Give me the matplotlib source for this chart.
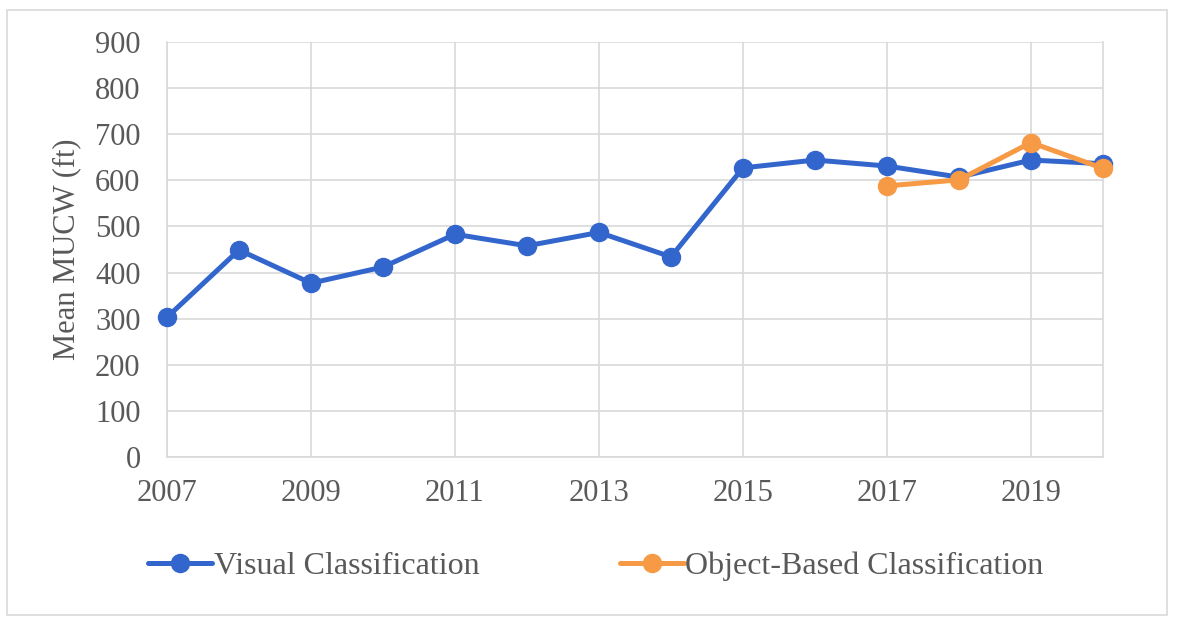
import matplotlib
matplotlib.use("Agg")
import matplotlib.pyplot as plt
from matplotlib.patches import Rectangle

# data
years = [2007, 2008, 2009, 2010, 2011, 2012, 2013, 2014, 2015, 2016, 2017, 2018, 2019, 2020]
visual = [303, 449, 377, 412, 483, 458, 487, 434, 627, 644, 631, 607, 644, 636]
obj_years = [2017, 2018, 2019, 2020]
obj_based = [588, 601, 682, 626]

BLUE = "#3366cc"
ORANGE = "#f79a45"
TEXT = "#595959"
GRID = "#d9d9d9"

plt.rcParams.update({
    "font.family": ["Liberation Serif", "DejaVu Serif"],
    "font.size": 22,
    "text.color": TEXT,
})

fig = plt.figure(figsize=(11.82, 6.25), dpi=100)
ax = fig.add_axes([167 / 1182, 1 - 457 / 625, (1103 - 167) / 1182, (457 - 42) / 625])

ax.plot(years, visual, color=BLUE, lw=3.6, marker="o", ms=13,
        label="Visual Classification", solid_capstyle="round", zorder=3, clip_on=False)
ax.plot(obj_years, obj_based, color=ORANGE, lw=3.6, marker="o", ms=13,
        label="Object-Based Classification", solid_capstyle="round", zorder=4, clip_on=False)

ax.set_xlim(2007, 2020)
ax.set_ylim(0, 900)
ax.set_yticks(range(0, 901, 100))
ax.set_xticks(range(2007, 2021, 2))
ax.grid(True, color=GRID, lw=1.2)
ax.set_axisbelow(True)
ax.spines["top"].set_visible(False)
for s in ["left", "bottom", "right"]:
    ax.spines[s].set_color(GRID)
    ax.spines[s].set_linewidth(1.2)
ax.tick_params(length=0, colors=TEXT, labelsize=22)
ax.tick_params(axis="x", pad=16)
ax.tick_params(axis="y", pad=19)
ax.set_ylabel("Mean MUCW (ft)", fontsize=22, color=TEXT, labelpad=10)

fig.legend(loc="center", bbox_to_anchor=(0.504, 1 - 566 / 625), ncol=2,
           frameon=False, fontsize=23, columnspacing=4.4, handlelength=2.0,
           handletextpad=0.05)

fig.patches.append(Rectangle((7 / 1182, 1 - 615 / 625), 1160 / 1182, 605 / 625,
                             transform=fig.transFigure, fill=False,
                             edgecolor=GRID, lw=1.2))

fig.savefig("out.png", dpi=100)
